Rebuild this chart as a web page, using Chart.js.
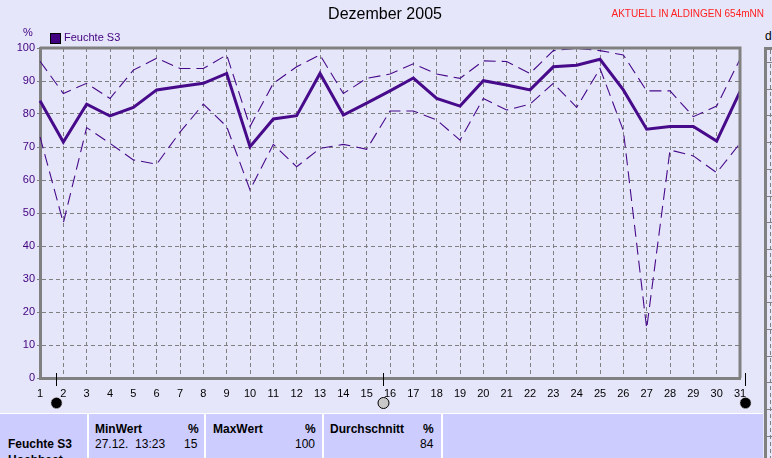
<!DOCTYPE html>
<html>
<head>
<meta charset="utf-8">
<script src="https://cdn.jsdelivr.net/npm/chart.js@4/dist/chart.umd.min.js"></script>
<style>
  body { margin: 0; background: #e6e6fa; font-family: "Liberation Sans", Arial, sans-serif; }
  #wrap { position: relative; width: 772px; height: 458px; overflow: hidden; background: #e6e6fa; }
  #chart { position: absolute; left: 0; top: 0; }
  .t { position: absolute; white-space: nowrap; }
  #title { left: 0; width: 770px; top: 5px; text-align: center; font-size: 16px; color: #000; }
  #aktuell { right: 8px; top: 8px; font-size: 10px; color: #ff2020; }
  #unit { left: 23px; top: 26px; font-size: 11px; color: #400080; }
  #legbox { position: absolute; left: 50px; top: 33px; width: 9px; height: 9px; background: #400080; border: 1px solid #000; }
  #legtxt { left: 64px; top: 31px; font-size: 11px; color: #400080; }
  #side { position: absolute; left: 764px; top: 47px; width: 6px; height: 420px;
          border-top: 3px solid #808080; border-left: 3px solid #808080;
          background: repeating-linear-gradient(to bottom, transparent 0 12px, #808080 12px 13px, transparent 13px 26.7px); }
  #sidev { position: absolute; left: 770px; top: 50px; width: 1px; height: 410px;
           background: repeating-linear-gradient(to bottom, #808080 0 4px, transparent 4px 7px); }
  #d { left: 765px; top: 29px; font-size: 12px; }
  #table { position: absolute; left: 0; top: 413px; width: 763px; height: 50px; background: #ccccff; border-top: 1px solid #fff; }
  .sep { position: absolute; top: 0; width: 2px; height: 50px; background: #fff; }
  .b { font-weight: bold; font-size: 12px; }
  .n { font-size: 12px; }
</style>
</head>
<body>
<div id="wrap">
  <canvas id="chart" width="764" height="413"></canvas>
  <div class="t" id="title">Dezember 2005</div>
  <div class="t" id="aktuell">AKTUELL IN ALDINGEN 654mNN</div>
  <div class="t" id="unit">%</div>
  <div id="legbox"></div>
  <div class="t" id="legtxt">Feuchte S3</div>
  <div id="side"></div>
  <div id="sidev"></div>
  <div class="t" id="d">d</div>
  <div id="table">
    <div class="sep" style="left:87px"></div>
    <div class="sep" style="left:204px"></div>
    <div class="sep" style="left:322px"></div>
    <div class="sep" style="left:441px"></div>
    <div class="t b" style="left:8px;top:23px">Feuchte S3</div>
    <div class="t b" style="left:8px;top:39px">Hochbeet</div>
    <div class="t b" style="left:95px;top:8px">MinWert</div>
    <div class="t b" style="left:188px;top:8px">%</div>
    <div class="t n" style="left:95px;top:23px">27.12.&nbsp;&nbsp;13:23</div>
    <div class="t n" style="left:184px;top:23px">15</div>
    <div class="t b" style="left:213px;top:8px">MaxWert</div>
    <div class="t b" style="left:305px;top:8px">%</div>
    <div class="t n" style="left:295px;top:23px">100</div>
    <div class="t b" style="left:330px;top:8px">Durchschnitt</div>
    <div class="t b" style="left:423px;top:8px">%</div>
    <div class="t n" style="left:420px;top:23px">84</div>
  </div>
</div>
<script>
var days = ['1','2','3','4','5','6','7','8','9','10','11','12','13','14','15','16',
            '17','18','19','20','21','22','23','24','25','26','27','28','29','30','31'];

var feuchteMittel = [84, 71.5, 83, 79.4, 82, 87.3, 88.3, 89.3, 92.3, 70.1, 78.5, 79.5, 92.3, 79.7, 83.3, 87,
                     90.9, 84.7, 82.4, 90.1, 88.8, 87.3, 94.3, 94.8, 96.6, 87.3, 75.4, 76.2, 76.2, 71.8, 86.8];
var feuchteMax = [96, 86.2, 89.3, 84.7, 93.3, 96.9, 93.8, 93.8, 97.9, 76.2, 89.3, 94.3, 97.9, 86.2, 90.8, 92.1,
                  95.2, 92.1, 90.8, 96.1, 95.9, 92.3, 99.2, 99.9, 99.2, 97.9, 87, 87, 79.2, 82.4, 96.6];
var feuchteMin = [73.1, 47, 75.9, 71.1, 66.1, 64.8, 74.5, 83, 76.2, 57, 70.8, 64, 69.6, 70.8, 69.3, 80.9,
                  80.9, 78.2, 72.1, 84.7, 81.2, 83, 89.3, 82, 93.8, 75, 15, 69.1, 67.3, 62.2, 71.1];

// Mondphasen (Tag im Monat, neu / voll)
var mondTage = [1.7, 15.7, 31.2];
var mondTyp = ['neu', 'voll', 'neu'];

var lineColor = '#460a8a';

var frame = {
    id: 'frame',
    afterDraw: function(chart) {
        var ctx = chart.ctx, a = chart.chartArea;
        ctx.save();
        ctx.strokeStyle = '#808080';
        ctx.lineWidth = 3;
        ctx.beginPath();
        ctx.moveTo(a.left, a.top);
        ctx.lineTo(a.right, a.top);
        ctx.lineTo(a.right, a.bottom);
        ctx.stroke();
        // Mondphasen
        var xs = chart.scales.x;
        for (var i = 0; i < mondTage.length; i++) {
            var x = Math.round(xs.getPixelForValue(mondTage[i] - 1)) + 0.5;
            ctx.strokeStyle = '#000';
            ctx.lineWidth = 1;
            ctx.beginPath();
            ctx.moveTo(x, a.bottom - 5);
            ctx.lineTo(x, a.bottom + 8);
            ctx.stroke();
            ctx.beginPath();
            ctx.arc(x, 403, 5.5, 0, Math.PI * 2);
            if (mondTyp[i] == 'neu') {
                ctx.fillStyle = '#000';
                ctx.fill();
                ctx.strokeStyle = '#b0b0b0';
                ctx.setLineDash([1, 1]);
                ctx.stroke();
                ctx.setLineDash([]);
            } else {
                ctx.fillStyle = '#c8c8c8';
                ctx.fill();
                ctx.strokeStyle = '#000';
                ctx.stroke();
            }
        }
        ctx.restore();
    }
};

var myChart = new Chart(document.getElementById('chart'), {
    type: 'line',
    data: {
        labels: days,
        datasets: [
            {data: feuchteMax, borderColor: lineColor, borderWidth: 1.1, borderDash: [12, 6], pointRadius: 0, tension: 0},
            {data: feuchteMin, borderColor: lineColor, borderWidth: 1.1, borderDash: [12, 6], pointRadius: 0, tension: 0},
            {data: feuchteMittel, borderColor: lineColor, borderWidth: 3, pointRadius: 0, tension: 0},
        ]
    },
    options: {
        responsive: false,
        animation: false,
        devicePixelRatio: 1,
        layout: {padding: {top: 48, right: 24, left: 0, bottom: 0}},
        plugins: {legend: {display: false}, title: {display: false}, tooltip: {enabled: false}},
        scales: {
            x: {
                offset: false,
                afterFit: function(s) { s.height = 35; },
                grid: {color: '#808080', lineWidth: 1, drawTicks: false},
                border: {color: '#808080', width: 3, dash: [4, 3]},
                ticks: {color: '#000', font: {family: 'Liberation Sans', size: 11}, padding: 9, maxRotation: 0, autoSkip: false}
            },
            y: {
                min: 0,
                max: 100,
                afterFit: function(s) { s.width = 40; },
                grid: {color: '#808080', lineWidth: 1, tickLength: 3, tickBorderDash: [], tickColor: '#808080'},
                border: {color: '#808080', width: 3, dash: [4, 3]},
                ticks: {stepSize: 10, color: '#400080', font: {family: 'Liberation Sans', size: 11}, padding: 2}
            }
        }
    },
    plugins: [frame]
});
window.myChart = myChart;
</script>
</body>
</html>
